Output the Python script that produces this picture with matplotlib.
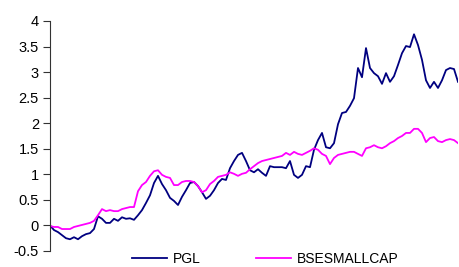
import matplotlib
matplotlib.use("Agg")
import matplotlib.pyplot as plt
import numpy as np

plt.rcParams['font.family'] = ['Liberation Sans', 'DejaVu Sans']

pgl = [0.0, -0.09, -0.13, -0.19, -0.25, -0.27, -0.23, -0.27, -0.21, -0.17,
       -0.15, -0.07, 0.18, 0.13, 0.05, 0.05, 0.13, 0.09, 0.16, 0.13,
       0.14, 0.11, 0.20, 0.30, 0.44, 0.59, 0.83, 0.97, 0.81, 0.69,
       0.54, 0.48, 0.40, 0.56, 0.69, 0.83, 0.85, 0.77, 0.65, 0.52,
       0.58, 0.69, 0.83, 0.91, 0.89, 1.12, 1.26, 1.38, 1.42, 1.26,
       1.08, 1.04, 1.10, 1.03, 0.97, 1.16, 1.14, 1.14, 1.14, 1.12,
       1.26, 0.99, 0.93, 0.99, 1.16, 1.14, 1.48, 1.67, 1.81, 1.53,
       1.51, 1.61, 1.98, 2.20, 2.22, 2.34, 2.49, 3.08, 2.90, 3.47,
       3.08, 2.98, 2.92, 2.77, 2.98, 2.81, 2.92, 3.14, 3.37, 3.51,
       3.49, 3.74, 3.53, 3.24, 2.84, 2.69, 2.81, 2.69, 2.84, 3.04,
       3.08, 3.06, 2.81]

bse = [-0.01, -0.03, -0.03, -0.07, -0.07, -0.07, -0.03, -0.01, 0.01, 0.03,
       0.05, 0.09, 0.20, 0.32, 0.28, 0.30, 0.28, 0.28, 0.32, 0.34,
       0.36, 0.36, 0.67, 0.79, 0.85, 0.97, 1.06, 1.08, 0.99, 0.95,
       0.93, 0.79, 0.79, 0.85, 0.87, 0.87, 0.85, 0.77, 0.65, 0.69,
       0.81, 0.87, 0.95, 0.97, 0.99, 1.04, 1.01, 0.97, 1.01, 1.03,
       1.10, 1.16, 1.22, 1.26, 1.28, 1.30, 1.32, 1.34, 1.36, 1.42,
       1.38, 1.44, 1.40, 1.38, 1.42, 1.46, 1.51, 1.48, 1.40, 1.36,
       1.20, 1.32, 1.38, 1.40, 1.42, 1.44, 1.44, 1.40, 1.36, 1.51,
       1.53, 1.57, 1.53, 1.51, 1.55, 1.61, 1.65, 1.71, 1.75, 1.81,
       1.81, 1.89, 1.89, 1.81, 1.63, 1.71, 1.73, 1.65, 1.63, 1.67,
       1.69, 1.67, 1.61]

yticks = [-0.5, 0, 0.5, 1, 1.5, 2, 2.5, 3, 3.5, 4]
ytick_labels = ['-0.5', '0', '0.5', '1', '1.5', '2', '2.5', '3', '3.5', '4']

x = np.arange(len(pgl))

fig = plt.figure(figsize=(4.59, 2.67), dpi=100)
ax = fig.add_axes([50/459, 16/267, 408/459, 230/267])
ax.plot(x, pgl, color='#000080', lw=1.3, label='PGL')
ax.plot(x, bse, color='#FF00FF', lw=1.3, label='BSESMALLCAP')
ax.set_xlim(0, len(pgl) - 1)
ax.set_ylim(-0.5, 4)
ax.set_yticks(yticks)
ax.set_yticklabels(ytick_labels, fontsize=10.5)
ax.set_xticks([])
for s in ['top', 'right', 'bottom']:
    ax.spines[s].set_visible(False)
ax.spines['left'].set_color('#333333')
ax.spines['left'].set_linewidth(0.8)
ax.tick_params(axis='y', direction='out', length=5, width=0.8, color='#333333', pad=3)

fig.legend(loc='center', bbox_to_anchor=(0.578, 0.03), ncol=2, frameon=False,
           fontsize=10, handlelength=2.5, columnspacing=4.0, handletextpad=0.4,
           borderpad=0.1)

fig.savefig('out.png', dpi=100)
